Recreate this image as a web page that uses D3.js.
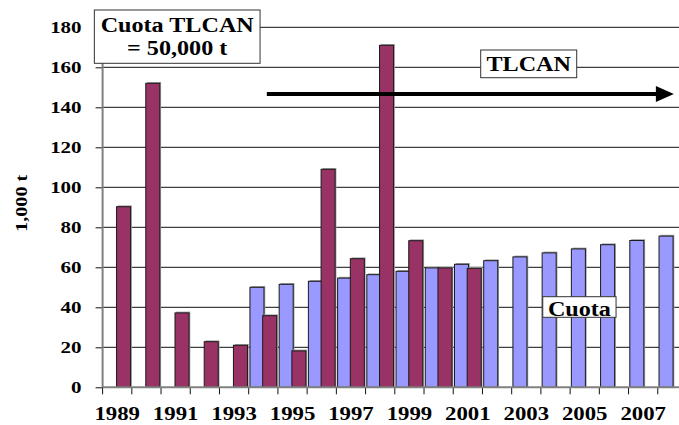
<!DOCTYPE html>
<html>
<head>
<meta charset="utf-8">
<script src="https://cdn.jsdelivr.net/npm/d3@7"></script>
<style>
  body { margin: 0; background: #fff; }
  svg { display: block; }
  text { font-family: "Liberation Serif", "Times New Roman", Times, serif; font-weight: bold; }
</style>
</head>
<body>
<div id="chart"></div>
<script>
// Datos (miles de toneladas)
const years = ['1989', '1990', '1991', '1992', '1993', '1994', '1995', '1996', '1997', '1998',
               '1999', '2000', '2001', '2002', '2003', '2004', '2005', '2006', '2007', '2008'];
const importYears = ['1989', '1990', '1991', '1992', '1993', '1994', '1995', '1996', '1997',
                     '1998', '1999', '2000', '2001'];
const imports = [90.3, 152, 37.2, 22.8, 21, 35.8, 18.2, 109, 64.3, 171, 73.3, 59.7, 59.5];
const quotaYears = ['1994', '1995', '1996', '1997', '1998', '1999', '2000', '2001', '2002',
                    '2003', '2004', '2005', '2006', '2007', '2008'];
const quota = [50, 51.5, 53, 54.6, 56.3, 58, 59.7, 61.5, 63.3, 65.2, 67.2, 69.2, 71.3, 73.4, 75.6];
const yTicks = [0, 20, 40, 60, 80, 100, 120, 140, 160, 180];
const xLabels = ['1989', '1991', '1993', '1995', '1997', '1999', '2001', '2003', '2005', '2007'];

const width = 679, height = 425;
const left = 102.6, step = 29.22;
const stretch = 1.2;

const svg = d3.select('#chart').append('svg')
    .attr('width', width)
    .attr('height', height)
    .style('overflow', 'hidden');

const x = d3.scaleBand()
    .domain(years)
    .range([left, left + step * years.length]);

const y = d3.scaleLinear()
    .domain([0, 180])
    .range([387.3, 27.3]);

const bw = x.bandwidth() * 0.48;
const pad = x.bandwidth() * 0.0425;
const overlap = x.bandwidth() * 0.045;

// Lineas de cuadricula
svg.append('g')
    .selectAll('line')
    .data(yTicks.slice(1))
    .enter()
    .append('line')
    .attr('x1', left)
    .attr('x2', x.range()[1])
    .attr('y1', d => y(d))
    .attr('y2', d => y(d))
    .attr('stroke', '#111')
    .attr('stroke-width', 1);

// Barras con sombra
const drawBars = (cats, vals, offset, fill) => {
    const g = svg.append('g');
    const data = cats.map((c, i) => [c, vals[i]]);
    g.selectAll('rect.shadow')
        .data(data)
        .enter()
        .append('rect')
        .attr('class', 'shadow')
        .attr('x', d => x(d[0]) + offset + 1.3)
        .attr('y', d => y(d[1]) - 1.3)
        .attr('width', bw)
        .attr('height', d => y(0) - y(d[1]) + 1.3)
        .attr('fill', '#a0a0a0');
    g.selectAll('rect.bar')
        .data(data)
        .enter()
        .append('rect')
        .attr('class', 'bar')
        .attr('x', d => x(d[0]) + offset)
        .attr('y', d => y(d[1]))
        .attr('width', bw)
        .attr('height', d => y(0) - y(d[1]))
        .attr('fill', fill)
        .attr('stroke', '#1a1a1a')
        .attr('stroke-width', 1);
};

drawBars(quotaYears, quota, pad, '#9999ff');
drawBars(importYears, imports, pad + bw - overlap, '#993366');

// Eje Y
const yAxis = svg.append('g')
    .attr('transform', `translate(${left}, 0)`)
    .call(d3.axisLeft(y).tickValues(yTicks).tickSize(7).tickPadding(0));
yAxis.select('.domain').remove();
yAxis.attr('font-family', null).attr('font-size', null);
yAxis.selectAll('line').attr('stroke', '#111');
yAxis.selectAll('text')
    .attr('x', 0)
    .attr('transform', `translate(-21, 0) scale(${stretch}, 1)`)
    .style('font-size', '17.5px')
    .attr('fill', '#000');
svg.append('line')
    .attr('x1', left).attr('x2', left)
    .attr('y1', y(180)).attr('y2', y(0))
    .attr('stroke', '#808080')
    .attr('stroke-width', 2);

// Eje X: marcas entre categorias, etiquetas cada dos años
const xAxis = svg.append('g')
    .attr('transform', `translate(0, ${y(0)})`)
    .call(d3.axisBottom(x).tickSize(7).tickFormat(d => xLabels.includes(d) ? d : ''));
xAxis.select('.domain').remove();
xAxis.attr('font-family', null).attr('font-size', null);
xAxis.selectAll('line')
    .attr('x1', -step / 2).attr('x2', -step / 2)
    .attr('stroke', '#111');
xAxis.selectAll('text')
    .attr('y', 0).attr('dy', 0)
    .attr('transform', `translate(0, 33) scale(${stretch}, 1)`)
    .style('font-size', '19px')
    .attr('fill', '#000');
xAxis.append('line')
    .attr('x1', x.range()[1]).attr('x2', x.range()[1])
    .attr('y1', 0).attr('y2', 7)
    .attr('stroke', '#111');
svg.append('line')
    .attr('x1', left).attr('x2', x.range()[1])
    .attr('y1', y(0)).attr('y2', y(0))
    .attr('stroke', '#808080')
    .attr('stroke-width', 2);

// Titulo del eje Y
svg.append('text')
    .attr('transform', `translate(26.5, ${y(92)}) rotate(-90) scale(1.18, 1)`)
    .attr('text-anchor', 'middle')
    .style('font-size', '17px')
    .text('1,000 t');

// Cuadros de texto
const boxText = (lines, cx, top, w, h, baselines) => {
    svg.append('rect')
        .attr('x', cx - w / 2)
        .attr('y', top)
        .attr('width', w)
        .attr('height', h)
        .attr('fill', '#fff')
        .attr('stroke', '#333')
        .attr('stroke-width', 1);
    lines.forEach((t, i) => {
        svg.append('text')
            .attr('transform', `translate(${cx}, ${baselines[i]}) scale(1.15, 1)`)
            .attr('text-anchor', 'middle')
            .style('font-size', '21px')
            .text(t);
    });
};

boxText(['Cuota TLCAN', '= 50,000 t'], 177.2, 10, 165.7, 53.3, [31.7, 54.5]);
boxText(['TLCAN'], 528.7, 50, 96, 27.7, [71]);
boxText(['Cuota'], 579.4, 296.7, 73.3, 20.6, [315.5]);

// Flecha TLCAN
const arrowY = y(146.7);
const x0 = x('1994') + x.bandwidth() * 0.62;
const x1 = x('2008') + x.bandwidth() * 0.55;
svg.append('line')
    .attr('x1', x0).attr('x2', x1 - 14)
    .attr('y1', arrowY).attr('y2', arrowY)
    .attr('stroke', '#000')
    .attr('stroke-width', 4);
svg.append('path')
    .attr('d', `M${x1},${arrowY} L${x1 - 18},${arrowY - 8} L${x1 - 18},${arrowY + 8} Z`)
    .attr('fill', '#000');
</script>
</body>
</html>
